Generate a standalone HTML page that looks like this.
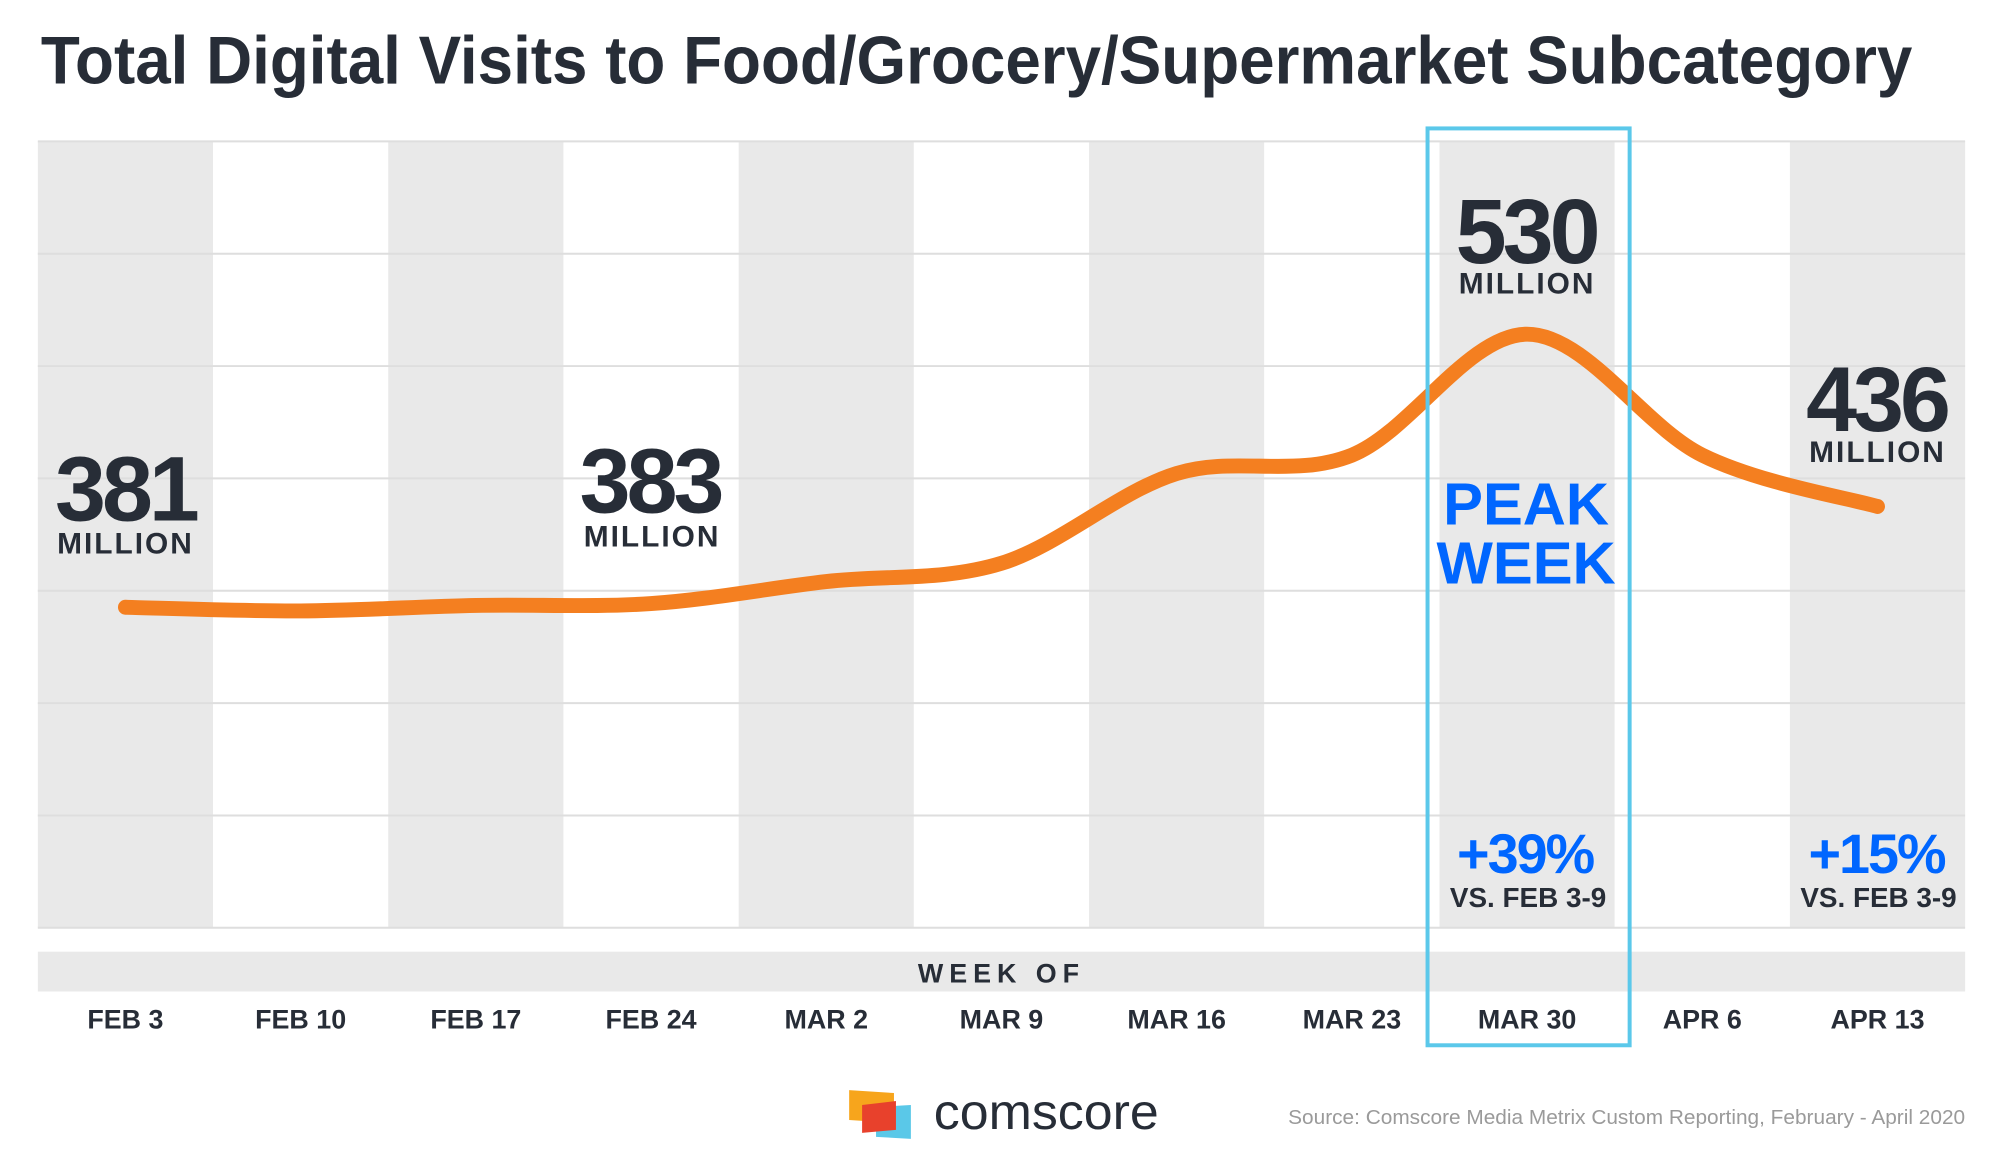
<!DOCTYPE html>
<html><head><meta charset="utf-8"><style>
html,body{margin:0;padding:0;background:#fff}
svg{display:block;font-family:"Liberation Sans",sans-serif}
</style></head><body>
<svg id="chart" width="2000" height="1160" viewBox="0 0 2000 1160" xmlns="http://www.w3.org/2000/svg">
<g transform="scale(0.9955)">
<text x="41" y="84" font-size="68" font-weight="bold" fill="#272d37" textLength="1880" lengthAdjust="spacingAndGlyphs">Total Digital Visits to Food/Grocery/Supermarket Subcategory</text>
<g id="bands"></g>
<g id="grid"></g>
<rect x="38" y="956" width="1936" height="40" fill="#e9e9e9"/>
<text x="1006" y="987" font-size="27" font-weight="bold" fill="#272d37" text-anchor="middle" letter-spacing="6">WEEK OF</text>
<g id="xlabels"></g>
<path id="line" fill="none" stroke="#f47f20" stroke-width="15" stroke-linecap="round"/>
<rect x="1434" y="129" width="203" height="921" fill="none" stroke="#5bc8ea" stroke-width="4"/>
<g font-weight="bold" fill="#272d37" text-anchor="middle">
<text x="126" y="523" font-size="92" letter-spacing="-4">381</text>
<text x="126" y="556" font-size="30" letter-spacing="2">MILLION</text>
<text x="653" y="515" font-size="92" letter-spacing="-4">383</text>
<text x="655" y="549" font-size="30" letter-spacing="2">MILLION</text>
<text x="1533" y="264" font-size="92" letter-spacing="-4">530</text>
<text x="1534" y="295" font-size="30" letter-spacing="2">MILLION</text>
<text x="1885" y="433" font-size="92" letter-spacing="-4">436</text>
<text x="1886" y="464" font-size="30" letter-spacing="2">MILLION</text>
<text x="1533" y="527" font-size="60" fill="#0066ff">PEAK</text>
<text x="1533" y="586" font-size="60" fill="#0066ff">WEEK</text>
<text x="1532" y="877" font-size="56" fill="#0066ff" letter-spacing="-2">+39%</text>
<text x="1535" y="911" font-size="28">VS. FEB 3-9</text>
<text x="1885" y="877" font-size="56" fill="#0066ff" letter-spacing="-2">+15%</text>
<text x="1887" y="911" font-size="28">VS. FEB 3-9</text>
</g>
<g>
<polygon points="853,1095 898,1098 898,1128 853,1125" fill="#f7a51c"/>
<polygon points="880,1112 915,1110 915,1144 880,1142" fill="#5ac8e8"/>
<polygon points="866,1110 900,1106 900,1135 866,1138" fill="#e8412c"/>
</g>
<text x="938" y="1134" font-size="50" fill="#272d37" textLength="226" lengthAdjust="spacingAndGlyphs">comscore</text>
<text x="1294" y="1129" font-size="20" fill="#9a9a9a" textLength="680" lengthAdjust="spacingAndGlyphs">Source: Comscore Media Metrix Custom Reporting, February - April 2020</text>
</g>
</svg>
<script>
const categories = ["FEB 3","FEB 10","FEB 17","FEB 24","MAR 2","MAR 9","MAR 16","MAR 23","MAR 30","APR 6","APR 13"];
const visits = [381, 379, 382, 383, 395, 405, 454, 464, 530, 464, 436];

const NS = "http://www.w3.org/2000/svg";
const plotLeft = 38, plotRight = 1974, plotTop = 142, plotBottom = 932;
const colW = (plotRight - plotLeft) / categories.length;
const xCenter = i => plotLeft + colW * (i + 0.5);
const yScale = v => 610 - (v - 381) * 1.841;

const bands = document.getElementById('bands');
categories.forEach((c, i) => {
  const r = document.createElementNS(NS, 'rect');
  r.setAttribute('x', plotLeft + colW * i); r.setAttribute('y', plotTop);
  r.setAttribute('width', colW); r.setAttribute('height', plotBottom - plotTop);
  r.setAttribute('fill', i % 2 === 0 ? '#e9e9e9' : '#ffffff');
  
  
  bands.appendChild(r);
});
const grid = document.getElementById('grid');
for (let k = 0; k < 8; k++) {
  const gy = plotTop + (plotBottom - plotTop) * k / 7;
  const l = document.createElementNS(NS, 'line');
  l.setAttribute('x1', plotLeft); l.setAttribute('x2', plotRight);
  l.setAttribute('y1', gy); l.setAttribute('y2', gy);
  l.setAttribute('stroke', '#dedede'); l.setAttribute('stroke-width', '2');
  
  
  grid.appendChild(l);
}
const xl = document.getElementById('xlabels');
categories.forEach((c, i) => {
  const t = document.createElementNS(NS, 'text');
  t.setAttribute('x', xCenter(i)); t.setAttribute('y', 1033);
  t.setAttribute('font-size', '27'); t.setAttribute('font-weight', 'bold');
  t.setAttribute('fill', '#272d37'); t.setAttribute('text-anchor', 'middle');
  t.textContent = c;
  
  
  xl.appendChild(t);
});
const pts = visits.map((v, i) => [xCenter(i), yScale(v)]);
let d = `M${pts[0][0]},${pts[0][1]}`;
for (let i = 0; i < pts.length - 1; i++) {
  const p0 = pts[i - 1] || pts[i], p1 = pts[i], p2 = pts[i + 1], p3 = pts[i + 2] || p2;
  const c1 = [p1[0] + (p2[0] - p0[0]) / 6, p1[1] + (p2[1] - p0[1]) / 6];
  const c2 = [p2[0] - (p3[0] - p1[0]) / 6, p2[1] - (p3[1] - p1[1]) / 6];
  d += ` C${c1[0]},${c1[1]} ${c2[0]},${c2[1]} ${p2[0]},${p2[1]}`;
}
document.getElementById('line').setAttribute('d', d);
</script>
</body></html>
